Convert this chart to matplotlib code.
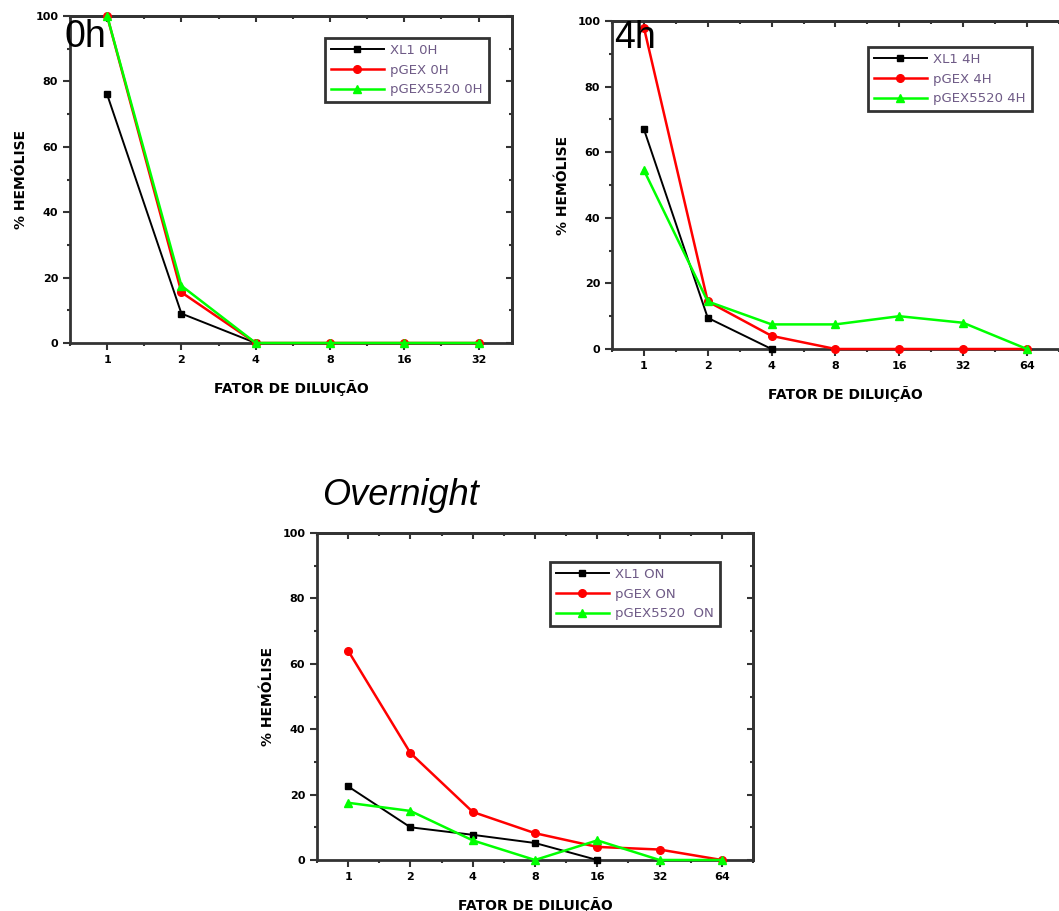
import numpy as np
import matplotlib
matplotlib.use("Agg")
import matplotlib.pyplot as plt
from matplotlib.ticker import MultipleLocator, NullFormatter

plt.rcParams['font.family'] = ['DejaVu Sans']

# dilution factors
fatores_0h = ['1', '2', '4', '8', '16', '32']
fatores_4h = ['1', '2', '4', '8', '16', '32', '64']
fatores_on = ['1', '2', '4', '8', '16', '32', '64']

# % hemolise, 0h
xl1_0h = [76, 9, 0]
pgex_0h = [100, 15.5, 0, 0, 0, 0]
pgex5520_0h = [100, 17.5, 0, 0, 0, 0]

# % hemolise, 4h
xl1_4h = [67, 9.5, 0]
pgex_4h = [98, 14.5, 4, 0, 0, 0, 0]
pgex5520_4h = [54.5, 14.5, 7.5, 7.5, 10, 8, 0]

# % hemolise, overnight
xl1_on = [22.5, 10, 7.7, 5.2, 0]
pgex_on = [64, 32.7, 14.7, 8.2, 4, 3.2, 0]
pgex5520_on = [17.5, 15, 6, 0, 6, 0, 0]

W, H = 1059, 911
fig = plt.figure(figsize=(W / 100, H / 100), dpi=100)
cinza = '#333333'


def box(l, t, r, b):
    return [l / W, 1 - b / H, (r - l) / W, (b - t) / H]


def painel(ax, fatores, series, labels, xmax, legend_box):
    cores = ['black', 'red', '#00ff00']
    marcadores = ['s', 'o', '^']
    larguras = [1.4, 1.8, 1.8]
    tamanhos = [5, 5.5, 6]
    for vals, lab, c, m, lw, ms in zip(series, labels, cores, marcadores, larguras, tamanhos):
        x = np.arange(len(vals))
        ax.plot(x, vals, color=c, marker=m, markersize=ms, linewidth=lw,
                label=lab, clip_on=False, zorder=3)
    ax.set_xlim(-0.5, xmax)
    ax.set_ylim(0, 100)
    ax.set_xticks(np.arange(len(fatores)))
    ax.set_xticklabels(fatores)
    ax.xaxis.set_minor_locator(MultipleLocator(0.5))
    ax.yaxis.set_major_locator(MultipleLocator(20))
    ax.yaxis.set_minor_locator(MultipleLocator(10))
    ax.tick_params(which='both', direction='out', labelsize=8, width=1.5,
                   color=cinza)
    ax.tick_params(which='major', length=5)
    ax.tick_params(which='minor', length=2.5)
    for t in ax.get_xticklabels() + ax.get_yticklabels():
        t.set_fontweight('bold')
    for s in ax.spines.values():
        s.set_linewidth(2)
        s.set_color(cinza)

    # inward ticks on top and right
    topo = ax.secondary_xaxis('top')
    topo.set_xticks(np.arange(len(fatores)))
    topo.xaxis.set_minor_locator(MultipleLocator(0.5))
    topo.xaxis.set_major_formatter(NullFormatter())
    direita = ax.secondary_yaxis('right')
    direita.yaxis.set_major_locator(MultipleLocator(20))
    direita.yaxis.set_minor_locator(MultipleLocator(10))
    direita.yaxis.set_major_formatter(NullFormatter())
    for sec in (topo, direita):
        sec.tick_params(which='both', direction='in', width=1.5, color=cinza)
        sec.tick_params(which='major', length=4)
        sec.tick_params(which='minor', length=2)
        for s in sec.spines.values():
            s.set_linewidth(2)
            s.set_color(cinza)

    ax.set_xlabel('FATOR DE DILUIÇÃO', fontsize=10, fontweight='bold', labelpad=11)
    ax.set_ylabel('% HEMÓLISE', fontsize=10, fontweight='bold', labelpad=5)
    leg = ax.legend(loc='upper left', bbox_to_anchor=legend_box, fontsize=9.5,
                    frameon=True, fancybox=False, handlelength=4.0,
                    handletextpad=0.5, borderpad=0.45, labelspacing=0.5,
                    borderaxespad=0, edgecolor=cinza, framealpha=1)
    leg.get_frame().set_linewidth(2)
    leg.set_zorder(5)
    for t in leg.get_texts():
        t.set_color('#6e5a86')


ax1 = fig.add_axes(box(70, 16, 512, 343))
painel(ax1, fatores_0h, [xl1_0h, pgex_0h, pgex5520_0h],
       ['XL1 0H', 'pGEX 0H', 'pGEX5520 0H'], 5.45,
       ((325 - 70) / 442, 1 - (38 - 16) / 327))

# right spine of this panel falls outside the picture
ax2 = fig.add_axes(box(612, 21, 1078, 349))
painel(ax2, fatores_4h, [xl1_4h, pgex_4h, pgex5520_4h],
       ['XL1 4H', 'pGEX 4H', 'pGEX5520 4H'], 6.8,
       ((868 - 612) / 466, 1 - (47 - 21) / 328))

ax3 = fig.add_axes(box(317, 533, 753, 860))
painel(ax3, fatores_on, [xl1_on, pgex_on, pgex5520_on],
       ['XL1 ON', 'pGEX ON', 'pGEX5520  ON'], 6.5,
       ((550 - 317) / 436, 1 - (562 - 533) / 327))

fig.text(64 / W, 1 - 47 / H, '0h', fontsize=27, family='Liberation Sans')
fig.text(614 / W, 1 - 48 / H, '4h', fontsize=27, family='Liberation Sans')
fig.text(322 / W, 1 - 505 / H, 'Overnight', fontsize=26, style='italic',
         family='Liberation Sans')

fig.savefig('out.png', dpi=100)
